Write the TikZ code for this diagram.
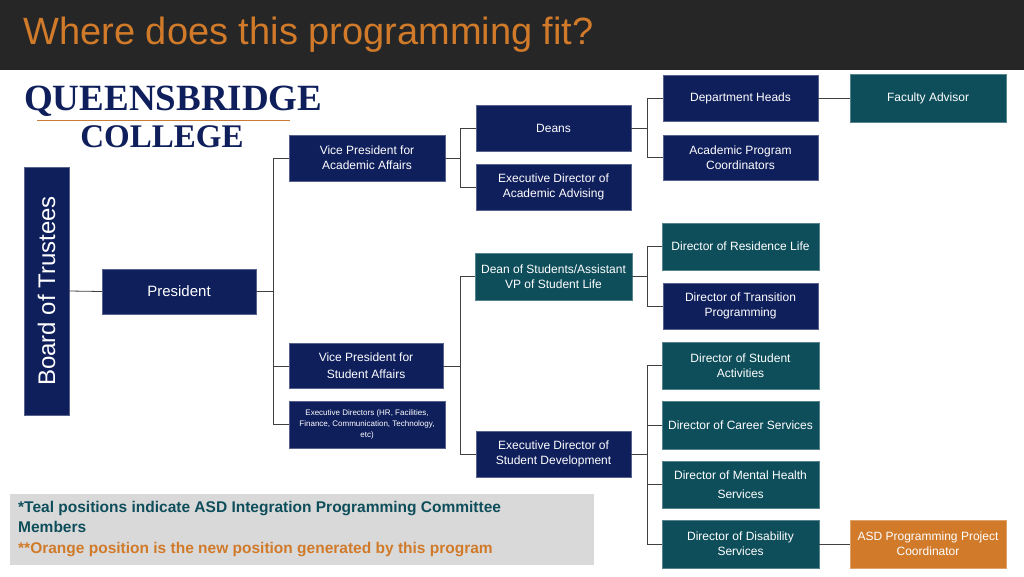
\documentclass[tikz,border=0pt]{standalone}
\usepackage{fontspec}
\setmainfont{Liberation Sans}
\newfontfamily\logofont{Liberation Serif}
\definecolor{navy}{HTML}{0F1F5C}
\definecolor{teal}{HTML}{0E4E5B}
\definecolor{orng}{HTML}{D07A2A}
\definecolor{bar}{HTML}{262626}
\definecolor{lines}{HTML}{404040}
\begin{document}
\begin{tikzpicture}[x=1pt,y=-1pt,
 box/.style={draw=#1!70!white,fill=#1,text=white,align=center,inner sep=1pt,font=\fontsize{12}{15}\selectfont},
 conn/.style={draw=lines,line width=0.8pt}]
\useasboundingbox (0,0) rectangle (1024,576);
\fill[white] (0,0) rectangle (1024,576);
\fill[bar] (0,0) rectangle (1024,70);
\node[anchor=west,text=orng,font=\fontsize{38}{40}\selectfont] (title) at (20,35) {Where does this programming fit?};
% logo
\node[anchor=west,text=navy,font=\logofont\bfseries\fontsize{37}{37}\selectfont,inner sep=0] (logo1) at (24,101) {QUEENSBRIDGE};
\draw[orng!60!brown,line width=1pt] (37,120) -- (290,120);
\node[text=navy,font=\logofont\bfseries\fontsize{33}{33}\selectfont,inner sep=0] (logo2) at (162,137) {COLLEGE};
% boxes
\node[box=navy,minimum width=248,minimum height=45,rotate=90,font=\fontsize{24}{26}\selectfont] (bot) at (46.5,291) {Board of Trustees};
\node[box=navy,minimum width=154,minimum height=45,font=\fontsize{15}{18}\selectfont] (pres) at (179,291.5) {President};
\node[box=navy,minimum width=156,minimum height=46] (vpaa) at (367,158) {Vice President for\\Academic Affairs};
\node[box=navy,minimum width=154,minimum height=45] (vpsa) at (366,366) {Vice President for\\[2pt]Student Affairs};
\node[box=navy,minimum width=156,minimum height=47,font=\fontsize{8}{11}\selectfont] (exd) at (367,424.5) {Executive Directors (HR, Facilities,\\Finance, Communication, Technology,\\etc)};
\node[box=navy,minimum width=155,minimum height=46] (deans) at (553.5,128) {Deans};
\node[box=navy,minimum width=155,minimum height=46] (eaa) at (553.5,187) {Executive Director of\\Academic Advising};
\node[box=teal,minimum width=157,minimum height=47] (dos) at (553.5,276.5) {Dean of Students/Assistant\\VP of Student Life};
\node[box=navy,minimum width=155,minimum height=46] (esd) at (553.5,454) {Executive Director of\\Student Development};
\node[box=navy,minimum width=155,minimum height=46] (dh) at (740.5,98) {Department Heads};
\node[box=teal,minimum width=156,minimum height=48] (fa) at (928,98) {Faculty Advisor};
\node[box=navy,minimum width=155,minimum height=45] (apc) at (740.5,157.5) {Academic Program\\Coordinators};
\node[box=teal,minimum width=157,minimum height=47] (drl) at (740.5,246.5) {Director of Residence Life};
\node[box=navy,minimum width=155,minimum height=46] (dtp) at (740.5,306) {Director of Transition\\Programming};
\node[box=teal,minimum width=157,minimum height=47] (dsa) at (740.5,365.5) {Director of Student\\Activities};
\node[box=teal,minimum width=157,minimum height=48] (dcs) at (740.5,425) {Director of Career Services};
\node[box=teal,minimum width=157,minimum height=47] (dmh) at (740.5,484.5) {Director of Mental Health\\[4pt]Services};
\node[box=teal,minimum width=157,minimum height=48] (dds) at (740.5,544) {Director of Disability\\Services};
\node[box=orng,minimum width=156,minimum height=48] (asd) at (928,544) {ASD Programming Project\\Coordinator};
% legend
\fill[black!15] (10,494) rectangle (594,565);
\node[anchor=north west,align=left,inner sep=0,font=\bfseries\fontsize{15.5}{20.5}\selectfont] (leg) at (18,501)
 {\textcolor{teal}{*Teal positions indicate ASD Integration Programming Committee}\\\textcolor{teal}{Members}\\\textcolor{orng}{**Orange position is the new position generated by this program}};
% connectors
\draw[conn] (bot.south) -- (pres.west);
\draw[conn] (pres.east) -- (273,291.5);
\draw[conn] (vpaa.west) -| (273,424.5) -- (exd.west);
\draw[conn] (273,366) -- (vpsa.west);
\draw[conn] (vpaa.east) -- (460,158);
\draw[conn] (deans.west) -| (460,187) -- (eaa.west);
\draw[conn] (vpsa.east) -- (460,366);
\draw[conn] (dos.west) -| (460,454) -- (esd.west);
\draw[conn] (deans.east) -- (647,128);
\draw[conn] (dh.west) -| (647,157.5) -- (apc.west);
\draw[conn] (dos.east) -- (647,276.5);
\draw[conn] (drl.west) -| (647,306) -- (dtp.west);
\draw[conn] (esd.east) -- (647,454);
\draw[conn] (dsa.west) -| (647,544) -- (dds.west);
\draw[conn] (647,425) -- (dcs.west);
\draw[conn] (647,484.5) -- (dmh.west);
\draw[conn] (dh.east) -- (fa.west);
\draw[conn] (dds.east) -- (asd.west);
\end{tikzpicture}
\end{document}
